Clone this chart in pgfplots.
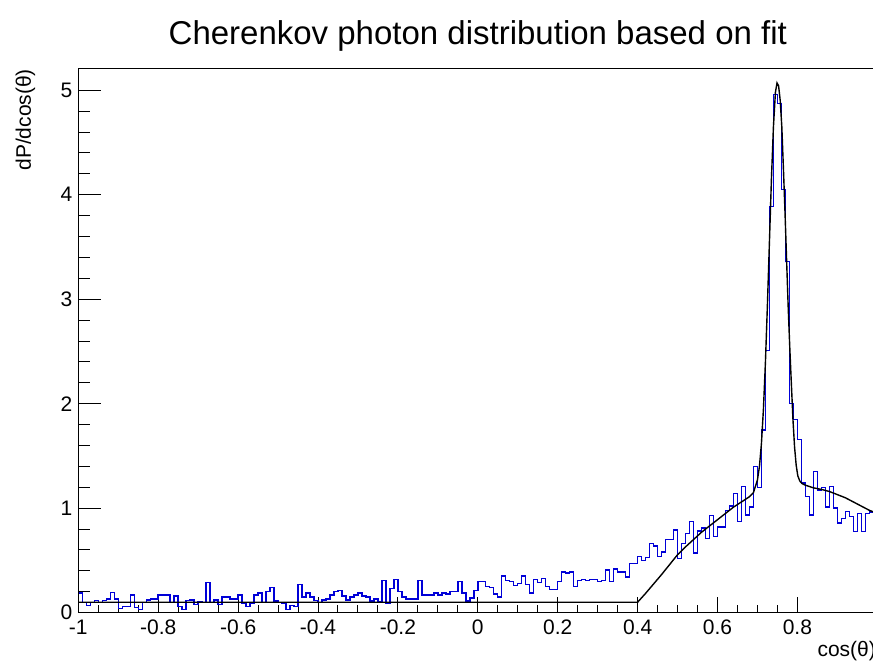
\documentclass[border=0pt]{standalone}
\usepackage{fontspec}
\setmainfont{Liberation Sans}
\usepackage{pgfplots}
\pgfplotsset{compat=1.18}
\usepackage{pgfplotstable}

\definecolor{histblue}{RGB}{0,0,215}

% Histogram of cos(theta): 200 bins of width 0.01 on [-1,1], left edge and content
\pgfplotstableread{
x y
-1.00 0.19
-0.99 0.10
-0.98 0.07
-0.97 0.10
-0.96 0.115
-0.95 0.10
-0.94 0.115
-0.93 0.13
-0.92 0.195
-0.91 0.13
-0.90 0.04
-0.89 0.06
-0.88 0.06
-0.87 0.17
-0.86 0.05
-0.85 0.03
-0.84 0.10
-0.83 0.12
-0.82 0.13
-0.81 0.13
-0.80 0.17
-0.79 0.17
-0.78 0.17
-0.77 0.10
-0.76 0.16
-0.75 0.06
-0.74 0.03
-0.73 0.115
-0.72 0.12
-0.71 0.08
-0.70 0.105
-0.69 0.10
-0.68 0.29
-0.67 0.10
-0.66 0.12
-0.65 0.08
-0.64 0.15
-0.63 0.15
-0.62 0.13
-0.61 0.13
-0.60 0.17
-0.59 0.09
-0.58 0.06
-0.57 0.09
-0.56 0.17
-0.55 0.19
-0.54 0.10
-0.53 0.20
-0.52 0.24
-0.51 0.11
-0.50 0.10
-0.49 0.09
-0.48 0.03
-0.47 0.07
-0.46 0.06
-0.45 0.27
-0.44 0.15
-0.43 0.19
-0.42 0.15
-0.41 0.115
-0.40 0.10
-0.39 0.12
-0.38 0.13
-0.37 0.17
-0.36 0.20
-0.35 0.21
-0.34 0.16
-0.33 0.12
-0.32 0.15
-0.31 0.17
-0.30 0.19
-0.29 0.16
-0.28 0.15
-0.27 0.11
-0.26 0.13
-0.25 0.105
-0.24 0.31
-0.23 0.09
-0.22 0.23
-0.21 0.32
-0.20 0.20
-0.19 0.15
-0.18 0.13
-0.17 0.13
-0.16 0.13
-0.15 0.31
-0.14 0.17
-0.13 0.17
-0.12 0.17
-0.11 0.19
-0.10 0.17
-0.09 0.19
-0.08 0.18
-0.07 0.20
-0.06 0.20
-0.05 0.30
-0.04 0.19
-0.03 0.11
-0.02 0.14
-0.01 0.21
0.00 0.30
0.01 0.30
0.02 0.25
0.03 0.24
0.04 0.18
0.05 0.15
0.06 0.35
0.07 0.31
0.08 0.30
0.09 0.26
0.10 0.28
0.11 0.35
0.12 0.27
0.13 0.19
0.14 0.32
0.15 0.29
0.16 0.33
0.17 0.25
0.18 0.22
0.19 0.22
0.20 0.30
0.21 0.39
0.22 0.38
0.23 0.39
0.24 0.25
0.25 0.31
0.26 0.32
0.27 0.31
0.28 0.32
0.29 0.32
0.30 0.30
0.31 0.31
0.32 0.41
0.33 0.30
0.34 0.42
0.35 0.39
0.36 0.39
0.37 0.34
0.38 0.47
0.39 0.47
0.40 0.54
0.41 0.50
0.42 0.53
0.43 0.66
0.44 0.64
0.45 0.54
0.46 0.58
0.47 0.70
0.48 0.70
0.49 0.79
0.50 0.52
0.51 0.66
0.52 0.76
0.53 0.87
0.54 0.57
0.55 0.78
0.56 0.81
0.57 0.71
0.58 0.93
0.59 0.73
0.60 0.82
0.61 0.82
0.62 0.98
0.63 1.02
0.64 1.14
0.65 0.87
0.66 1.21
0.67 0.935
0.68 1.01
0.69 1.40
0.70 1.20
0.71 1.75
0.72 2.51
0.73 3.89
0.74 4.96
0.75 4.87
0.76 4.05
0.77 3.36
0.78 2.00
0.79 1.85
0.80 1.66
0.81 1.24
0.82 1.11
0.83 0.935
0.84 1.35
0.85 1.175
0.86 1.20
0.87 1.01
0.88 1.21
0.89 1.00
0.90 0.86
0.91 0.90
0.92 0.97
0.93 0.92
0.94 0.775
0.95 0.95
0.96 0.775
0.97 0.95
0.98 0.965
0.99 0.95
1.00 0.95
}\histdata

% Fitted function: flat background, rising shoulder and the Cherenkov peak
\pgfplotstableread{
x y
-1.000 0.100
0.400 0.100
0.420 0.185
0.440 0.275
0.460 0.365
0.480 0.460
0.500 0.555
0.520 0.630
0.540 0.700
0.560 0.770
0.580 0.830
0.600 0.890
0.620 0.950
0.640 1.010
0.660 1.060
0.680 1.110
0.690 1.150
0.700 1.270
0.705 1.400
0.710 1.620
0.715 1.950
0.720 2.400
0.725 2.950
0.730 3.550
0.735 4.150
0.740 4.650
0.745 4.980
0.749 5.070
0.753 5.040
0.757 4.900
0.761 4.650
0.765 4.250
0.769 3.830
0.773 3.370
0.777 2.920
0.781 2.530
0.785 2.180
0.789 1.840
0.793 1.580
0.797 1.410
0.801 1.310
0.806 1.260
0.812 1.235
0.820 1.220
0.840 1.195
0.860 1.180
0.880 1.160
0.900 1.130
0.920 1.100
0.940 1.060
0.960 1.020
0.980 0.980
1.000 0.950
}\fitdata

\newcommand{\ticksize}{\fontsize{10.5}{12}\selectfont}

\begin{document}
\begin{tikzpicture}
% frame, x ticks and both curves
\begin{axis}[
  at={(0,0)}, anchor=south west,
  scale only axis, width=399.5pt, height=272pt,
  xmin=-1, xmax=1, ymin=0, ymax=5.206,
  axis line style={line width=0.6pt},
  xtick={-1,-0.8,-0.6,-0.4,-0.2,0,0.2,0.4,0.6,0.8},
  xticklabels={-1,-0.8,-0.6,-0.4,-0.2,0,0.2,0.4,0.6,0.8},
  minor x tick num=3,
  ytick=\empty,
  xtick pos=bottom,
  tick align=inside,
  major tick length=8pt, minor tick length=3.85pt,
  tick style={line width=0.5pt, black},
  xticklabel style={anchor=base, inner sep=0pt, yshift=-11.15pt, font=\ticksize},
]
\addplot[color=histblue, line width=0.7pt, const plot mark left] table[x=x, y=y] {\histdata};
\addplot[color=black, line width=0.7pt] table[x=x, y=y] {\fitdata};
\end{axis}
% y axis with its own (longer) tick marks
\begin{axis}[
  at={(0,0)}, anchor=south west,
  scale only axis, width=399.5pt, height=272pt,
  xmin=-1, xmax=1, ymin=0, ymax=5.206,
  hide x axis,
  axis y line*=left,
  y axis line style={line width=0.6pt},
  ytick={0,1,2,3,4,5},
  yticklabels={0,1,2,3,4,5},
  minor y tick num=4,
  tick align=inside,
  major tick length=11.5pt, minor tick length=5.85pt,
  tick style={line width=0.5pt, black},
  yticklabel style={anchor=east, inner sep=0pt, xshift=-2.8pt, font=\ticksize},
]
\end{axis}
\node[anchor=base, font=\fontsize{16.5}{19}\selectfont] at (199.75pt,284.3pt)
  {Cherenkov photon distribution based on fit};
\node[anchor=base east, inner sep=0pt, font=\ticksize] at (399pt,-21.9pt) {cos(θ)};
\node[rotate=90, anchor=base east, inner sep=0pt, font=\ticksize] at (-23.65pt,272pt) {dP/dcos(θ)};
\pgfresetboundingbox
\useasboundingbox (-39.15pt,-24.65pt) rectangle (397.35pt,306.35pt);
\end{tikzpicture}
\end{document}
